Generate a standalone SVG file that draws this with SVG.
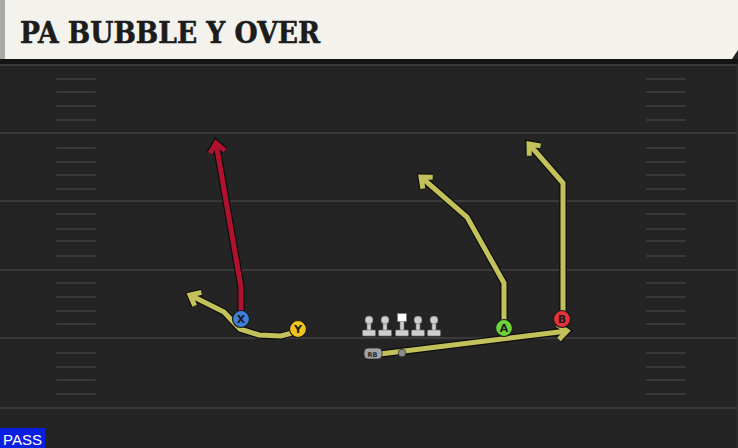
<svg xmlns="http://www.w3.org/2000/svg" width="738" height="448" viewBox="0 0 738 448">
<defs>
<style>
.yard{stroke:#3a3a3a;stroke-width:2}
.hash{stroke:#393939;stroke-width:2;stroke-linecap:round}
.out{fill:none;stroke:#0e0e0e;stroke-width:7.5;stroke-linejoin:miter;stroke-linecap:butt}
.ylw{fill:none;stroke:#c3c15a;stroke-width:5;stroke-linejoin:miter}
.red{fill:none;stroke:#b0112f;stroke-width:5;stroke-linejoin:miter}
.nodec{stroke:#1a1a1a;stroke-width:1.2}
.nl{font-family:"DejaVu Sans","Liberation Sans",sans-serif;font-weight:bold;font-size:11px;fill:#1c1c1c;text-anchor:middle}
.ol{fill:#cfcfcf;stroke:#6a6a6a;stroke-width:0.6}
</style>
<marker id="mo" markerUnits="userSpaceOnUse" markerWidth="30" markerHeight="30" refX="0" refY="0" viewBox="-15 -15 30 30" orient="auto" overflow="visible">
<path d="M-9,-7.5 L0,0 L-9,7.5" fill="none" stroke="#0e0e0e" stroke-width="7.5" stroke-linejoin="miter"/>
</marker>
<marker id="my" markerUnits="userSpaceOnUse" markerWidth="30" markerHeight="30" refX="0" refY="0" viewBox="-15 -15 30 30" orient="auto" overflow="visible">
<path d="M-9,-7.5 L0,0 L-9,7.5" fill="none" stroke="#c3c15a" stroke-width="5" stroke-linejoin="miter"/>
</marker>
<marker id="mr" markerUnits="userSpaceOnUse" markerWidth="30" markerHeight="30" refX="0" refY="0" viewBox="-15 -15 30 30" orient="auto" overflow="visible">
<path d="M-9,-7.5 L0,0 L-9,7.5" fill="none" stroke="#b0112f" stroke-width="5" stroke-linejoin="miter"/>
</marker>
<g id="lineman">
<rect x="-2" y="-1" width="4" height="12" class="ol"/>
<rect x="-6.5" y="10" width="13" height="6" rx="1" class="ol"/>
<circle cx="0" cy="0" r="4" class="ol"/>
</g>
</defs>
<rect x="0" y="0" width="738" height="448" fill="#242424"/>
<g id="field">
<rect x="0" y="59" width="738" height="5" fill="#141414"/>
<line class="yard" x1="0" y1="65" x2="738" y2="65"/>
<line class="yard" x1="0" y1="133" x2="738" y2="133"/>
<line class="yard" x1="0" y1="201" x2="738" y2="201"/>
<line class="yard" x1="0" y1="270" x2="738" y2="270"/>
<line class="yard" x1="0" y1="338" x2="738" y2="338"/>
<line class="yard" x1="0" y1="408" x2="738" y2="408"/>
<g id="hashL">
<line class="hash" x1="57" y1="79" x2="95" y2="79"/>
<line class="hash" x1="57" y1="92" x2="95" y2="92"/>
<line class="hash" x1="57" y1="106" x2="95" y2="106"/>
<line class="hash" x1="57" y1="120" x2="95" y2="120"/>
<line class="hash" x1="57" y1="148" x2="95" y2="148"/>
<line class="hash" x1="57" y1="162" x2="95" y2="162"/>
<line class="hash" x1="57" y1="175" x2="95" y2="175"/>
<line class="hash" x1="57" y1="189" x2="95" y2="189"/>
<line class="hash" x1="57" y1="214" x2="95" y2="214"/>
<line class="hash" x1="57" y1="229" x2="95" y2="229"/>
<line class="hash" x1="57" y1="241" x2="95" y2="241"/>
<line class="hash" x1="57" y1="256" x2="95" y2="256"/>
<line class="hash" x1="57" y1="283" x2="95" y2="283"/>
<line class="hash" x1="57" y1="297" x2="95" y2="297"/>
<line class="hash" x1="57" y1="311" x2="95" y2="311"/>
<line class="hash" x1="57" y1="324" x2="95" y2="324"/>
<line class="hash" x1="57" y1="353" x2="95" y2="353"/>
<line class="hash" x1="57" y1="367" x2="95" y2="367"/>
<line class="hash" x1="57" y1="380" x2="95" y2="380"/>
<line class="hash" x1="57" y1="394" x2="95" y2="394"/>
</g>
<use href="#hashL" x="590"/>
<line x1="737" y1="64" x2="737" y2="448" stroke="#2e2e2e" stroke-width="1.5"/>
</g>
<g id="header">
<path d="M0,0 H738 V50 L732,59 H0 Z" fill="#f4f2ec"/>
<rect x="0" y="0" width="5" height="59" fill="#a9a9a6"/>
<text x="20" y="43" font-family="'DejaVu Serif','Liberation Serif',serif" font-weight="bold" font-size="29" fill="#1c1c1c" stroke="#1c1c1c" stroke-width="0.6" textLength="300" lengthAdjust="spacingAndGlyphs">PA BUBBLE Y OVER</text>
</g>
<g id="connectors">
<g id="route-x">
<path class="out" marker-end="url(#mo)" d="M241,311 L241,287 L216,143"/>
<path class="red" marker-end="url(#mr)" d="M241,311 L241,287 L216,143"/>
</g>
<g id="route-y">
<path class="out" marker-end="url(#mo)" d="M292,333 L281,336 L259,335 L240,329 L224,312 L190,295"/>
<path class="ylw" marker-end="url(#my)" d="M292,333 L281,336 L259,335 L240,329 L224,312 L190,295"/>
</g>
<g id="route-a">
<path class="out" marker-end="url(#mo)" d="M504,320 L504,283 L467,217 L421,177"/>
<path class="ylw" marker-end="url(#my)" d="M504,320 L504,283 L467,217 L421,177"/>
</g>
<g id="route-b">
<path class="out" marker-end="url(#mo)" d="M563,311 L563,183 L529,144"/>
<path class="ylw" marker-end="url(#my)" d="M563,311 L563,183 L529,144"/>
</g>
<g id="route-rb">
<path class="out" marker-end="url(#mo)" d="M380,354 L567,331"/>
<path class="ylw" marker-end="url(#my)" d="M380,354 L567,331"/>
</g>
</g>
<g id="ball"><circle cx="402" cy="353" r="3.8" fill="#8c8c8c" stroke="#333" stroke-width="0.8"/></g>
<g id="LT"><use href="#lineman" x="369" y="320"/></g>
<g id="LG"><use href="#lineman" x="385" y="320"/></g>
<g id="C">
<rect x="400" y="319" width="4" height="12" class="ol"/>
<rect x="395.5" y="330" width="13" height="6" rx="1" class="ol"/>
<rect x="397.5" y="313.5" width="9" height="8" fill="#ffffff" stroke="#777" stroke-width="0.6"/>
</g>
<g id="RG"><use href="#lineman" x="418" y="320"/></g>
<g id="RT"><use href="#lineman" x="434" y="320"/></g>
<g id="RB">
<rect x="364" y="348" width="18" height="11" rx="4" fill="#a3a3a3" stroke="#2a2a2a" stroke-width="0.8"/>
<text x="372.5" y="356.5" font-family="'DejaVu Sans','Liberation Sans',sans-serif" font-size="6.5" font-weight="bold" fill="#2a2a2a" text-anchor="middle">RB</text>
</g>
<g id="X">
<circle cx="241" cy="319" r="8.5" fill="#3f7fd8" class="nodec"/>
<text x="241" y="323" class="nl">X</text>
</g>
<g id="Y">
<circle cx="298" cy="329" r="8.5" fill="#f1c31f" class="nodec"/>
<text x="298" y="333" class="nl">Y</text>
</g>
<g id="A">
<circle cx="504" cy="328" r="8.5" fill="#6fd23b" class="nodec"/>
<text x="504" y="332" class="nl">A</text>
</g>
<g id="B">
<circle cx="562" cy="319" r="8.5" fill="#e5323b" class="nodec"/>
<text x="562" y="323" class="nl">B</text>
</g>
<g id="pass">
<rect x="0" y="428" width="45" height="20" fill="#0b1fe0"/>
<text x="3" y="444.5" font-family="'Liberation Sans',Arial,sans-serif" font-size="15.5" fill="#ffffff" textLength="39" lengthAdjust="spacingAndGlyphs">PASS</text>
</g>
</svg>
